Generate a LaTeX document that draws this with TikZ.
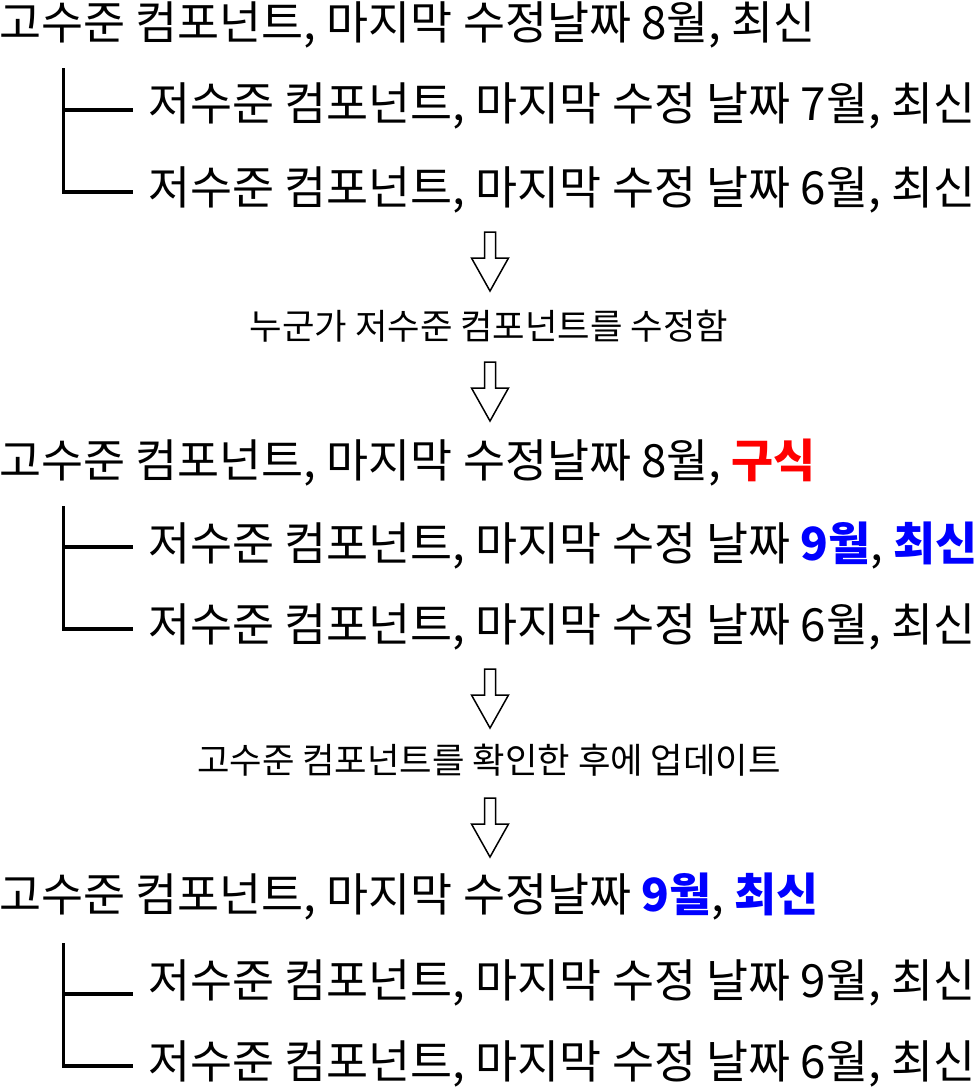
\documentclass[tikz,border=0pt]{standalone}
\usepackage{fontspec}
\setmainfont{Noto Sans CJK KR}
\definecolor{oldred}{RGB}{255,0,0}
\definecolor{newblue}{RGB}{0,0,255}
\begin{document}
\begin{tikzpicture}[x=1pt,y=-1pt,
  rowtext/.style={anchor=base west,inner sep=0pt,font=\fontsize{45.7}{52}\selectfont},
  subtext/.style={anchor=base,inner sep=0pt,font=\fontsize{35.3}{40}\selectfont},
  treeline/.style={line width=3.5pt},
  downarrow/.pic={\draw[line width=1.5pt,line join=miter]
     (-5.5,0) -- (5.5,0) -- (5.5,26) -- (18.5,26) -- (0,59) -- (-18.5,26) -- (-5.5,26) -- cycle;}]
\useasboundingbox (0,0) rectangle (979,1087);
% section 1
\node[rowtext] (h1) at (-1,39.5) {고수준 컴포넌트, 마지막 수정날짜 8월, 최신};
\node[rowtext] (l1a) at (148,120.5) {저수준 컴포넌트, 마지막 수정 날짜 7월, 최신};
\node[rowtext] (l1b) at (148,204.5) {저수준 컴포넌트, 마지막 수정 날짜 6월, 최신};
\coordinate (t1top) at (63.5,68);
\coordinate (t1a) at (133,110);
\coordinate (t1b) at (133,192);
\draw[treeline] (t1top) |- (t1b);
\draw[treeline] (t1top |- t1a) -- (t1a);
\pic at (490,232) {downarrow};
\node[subtext] (s1) at (489,339) {누군가 저수준 컴포넌트를 수정함};
\pic at (490,362) {downarrow};
% section 2
\node[rowtext] (h2) at (-1,477.5) {고수준 컴포넌트, 마지막 수정날짜 8월, \textcolor{oldred}{\bfseries 구식}};
\node[rowtext] (l2a) at (148,560.5) {저수준 컴포넌트, 마지막 수정 날짜 \textcolor{newblue}{\bfseries 9월}, \textcolor{newblue}{\bfseries 최신}};
\node[rowtext] (l2b) at (148,641.5) {저수준 컴포넌트, 마지막 수정 날짜 6월, 최신};
\coordinate (t2top) at (63.5,506);
\coordinate (t2a) at (133,547);
\coordinate (t2b) at (133,629);
\draw[treeline] (t2top) |- (t2b);
\draw[treeline] (t2top |- t2a) -- (t2a);
\pic at (490,669) {downarrow};
\node[subtext] (s2) at (489,773) {고수준 컴포넌트를 확인한 후에 업데이트};
\pic at (490,798) {downarrow};
% section 3
\node[rowtext] (h3) at (-1,911.5) {고수준 컴포넌트, 마지막 수정날짜 \textcolor{newblue}{\bfseries 9월}, \textcolor{newblue}{\bfseries 최신}};
\node[rowtext] (l3a) at (148,997.5) {저수준 컴포넌트, 마지막 수정 날짜 9월, 최신};
\node[rowtext] (l3b) at (148,1078.5) {저수준 컴포넌트, 마지막 수정 날짜 6월, 최신};
\coordinate (t3top) at (63.5,943);
\coordinate (t3a) at (133,994);
\coordinate (t3b) at (133,1066);
\draw[treeline] (t3top) |- (t3b);
\draw[treeline] (t3top |- t3a) -- (t3a);
\end{tikzpicture}
\end{document}
